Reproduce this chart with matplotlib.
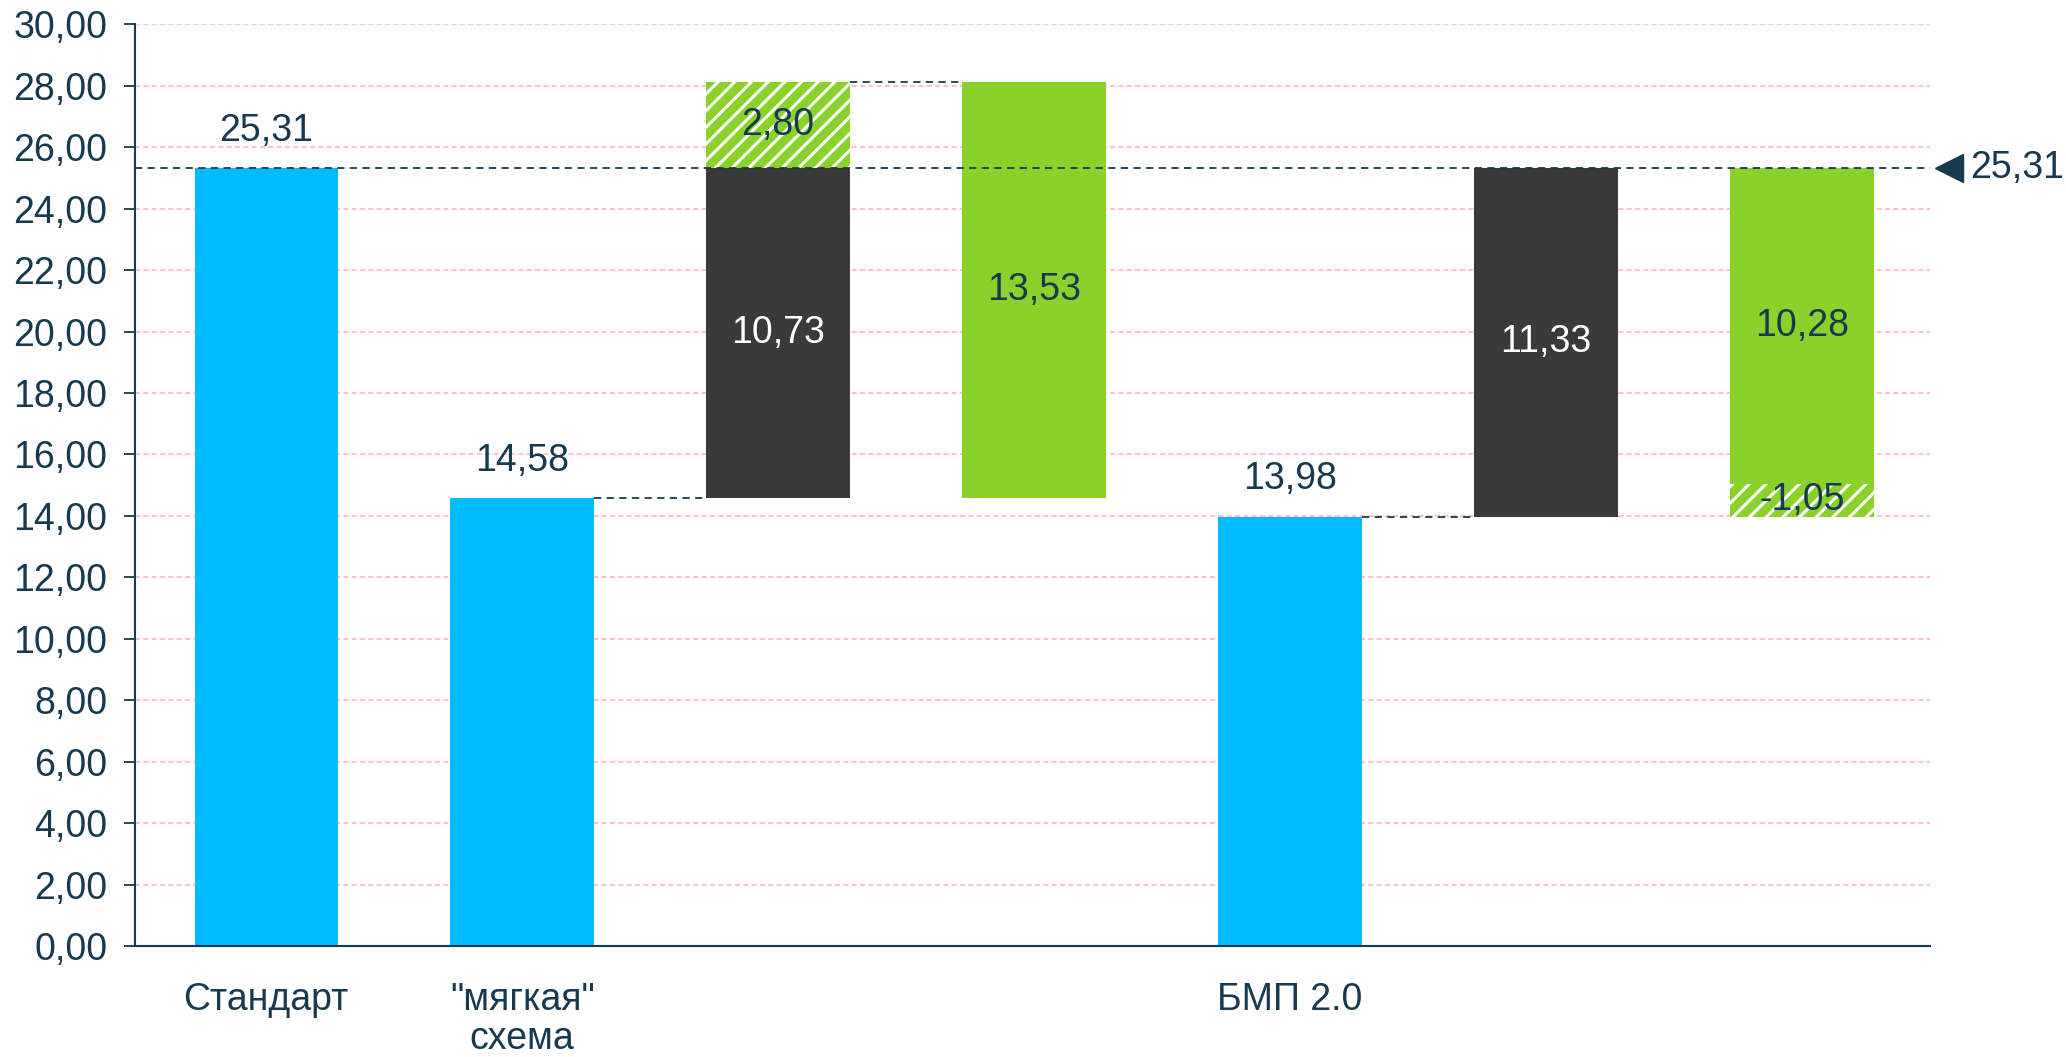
import matplotlib.pyplot as plt
from matplotlib import transforms

# data
labels = ["Стандарт", '"мягкая"\nсхема', "", "", "БМП 2.0", "", ""]
blue_pos = [0, 1, 4]
blue_vals = [25.31, 14.58, 13.98]
dark_pos = [2, 5]
dark_bottom = [14.58, 13.98]
dark_vals = [10.73, 11.33]
green_pos = [3, 6]
green_bottom = [14.58, 15.03]
green_vals = [13.53, 10.28]
hatch_pos = [2, 6]
hatch_bottom = [25.31, 13.98]
hatch_vals = [2.80, -1.05]
reference = 25.31

navy = "#163a50"
blue = "#00bbff"
green = "#8ad12a"
dark = "#3a3a3a"
pink = "#ffb3c6"
fs = 27

plt.rcParams['font.family'] = ['Liberation Sans', 'DejaVu Sans']
plt.rcParams['hatch.linewidth'] = 2.2


def fmt(v):
    return f"{v:.2f}".replace(".", ",")


fig = plt.figure(figsize=(20.66, 10.57), dpi=100)
ax = fig.add_axes([0.0653, 0.105, 0.8688, 0.872])
w = 0.56

ax.bar(blue_pos, blue_vals, width=w, color=blue, zorder=2)
ax.bar(dark_pos, dark_vals, bottom=dark_bottom, width=w, color=dark, zorder=2)
ax.bar(green_pos, green_vals, bottom=green_bottom, width=w, color=green, zorder=2)
hh = [abs(v) for v in hatch_vals]
ax.bar(hatch_pos, hh, bottom=hatch_bottom, width=w, color=green, edgecolor="white",
       linewidth=0, hatch="//", zorder=2)

# value labels
for x, v in zip(blue_pos, blue_vals):
    ax.annotate(fmt(v), (x, v), xytext=(0, 27), textcoords="offset points",
                ha="center", va="center", fontsize=fs, color=navy)
for x, b, v in zip(dark_pos, dark_bottom, dark_vals):
    ax.text(x, b + v / 2, fmt(v), ha="center", va="center", fontsize=fs, color="white", zorder=4)
for x, b, v in zip(green_pos, green_bottom, green_vals):
    ax.text(x, b + v / 2, fmt(v), ha="center", va="center", fontsize=fs, color=navy, zorder=4)
for x, b, h, v in zip(hatch_pos, hatch_bottom, hh, hatch_vals):
    ax.text(x, b + h / 2, fmt(v), ha="center", va="center", fontsize=fs, color=navy, zorder=4)

# connectors
dash = dict(color=navy, linestyle=(0, (4, 3)), linewidth=1.3, zorder=3)
ax.axhline(reference, **dash)
ax.plot([1 + w / 2, 2 - w / 2], [blue_vals[1]] * 2, **dash)
ax.plot([2 + w / 2, 3 - w / 2], [hatch_bottom[0] + hatch_vals[0]] * 2, **dash)
ax.plot([4 + w / 2, 5 - w / 2], [blue_vals[2]] * 2, **dash)

# reference marker on the right
tr = transforms.blended_transform_factory(ax.transAxes, ax.transData)
ax.plot([1.0106], [reference], marker="<", markersize=20, color=navy,
        transform=tr, clip_on=False)
ax.text(1.0225, reference, fmt(reference), transform=tr, ha="left", va="center",
        fontsize=fs, color=navy)

ax.set_xlim(-0.513, 6.5)
ax.set_ylim(0, 30)
ax.set_yticks(range(0, 31, 2))
ax.set_yticklabels([fmt(t) for t in range(0, 31, 2)], fontsize=fs, color=navy)
ax.set_xticks(range(len(labels)))
ax.set_xticklabels(labels, fontsize=fs, color=navy, linespacing=1.1)
ax.tick_params(axis="x", length=0, pad=26)
ax.tick_params(axis="y", length=8, width=1.3, color=navy, pad=12)

ax.grid(axis="y", color=pink, linestyle=(0, (3, 2)), linewidth=1.2, zorder=0)
ax.set_axisbelow(True)
for s in ["top", "right"]:
    ax.spines[s].set_visible(False)
for s in ["left", "bottom"]:
    ax.spines[s].set_color(navy)
    ax.spines[s].set_linewidth(1.5)

fig.savefig("out.png", dpi=100)
